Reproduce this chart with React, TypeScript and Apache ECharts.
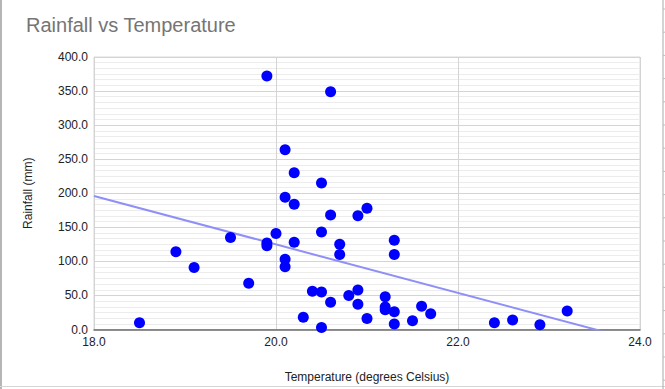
import React, { useEffect, useRef } from "react";
import * as echarts from "echarts";

const temperature = [
  18.5, 18.9, 19.1, 19.5, 19.7, 19.9, 19.9, 19.9, 20.0, 20.1, 20.1, 20.1, 20.1,
  20.2, 20.2, 20.2, 20.3, 20.4, 20.5, 20.5, 20.5, 20.5, 20.6, 20.6, 20.6, 20.7,
  20.7, 20.8, 20.9, 20.9, 20.9, 21.0, 21.0, 21.2, 21.2, 21.2, 21.3, 21.3, 21.3,
  21.3, 21.5, 21.6, 21.7, 22.4, 22.6, 22.9, 23.2,
];
const rainfall = [
  10, 114, 91, 135, 68, 372, 127, 123, 141, 264, 194, 103, 92, 230, 184, 128,
  18, 56, 215, 143, 55, 3, 349, 168, 40, 125, 110, 50, 167, 58, 37, 178, 16, 48,
  33, 29, 131, 110, 26, 8, 13, 34, 23, 10, 14, 7, 27,
];
const trendX = [18, 24];
const trendY = [196, -17.4];
const xTicks = { min: 18, max: 24, interval: 2 };
const yTicks = { min: 0, max: 400, interval: 50 };

export default function App() {
  const ref = useRef<HTMLDivElement>(null);
  useEffect(() => {
    if (!ref.current) return;
    document.body.style.margin = "0";
    const chart = echarts.init(ref.current, null, { renderer: "svg" });
    const font = "'Liberation Sans', Arial, sans-serif";
    const rowTicks: any[] = [];
    for (let y = 9; y < 389; y += 23.2) {
      rowTicks.push({
        type: "line",
        shape: { x1: 663, y1: y, x2: 665, y2: y },
        style: { stroke: "#bdbdbd", lineWidth: 1 },
        silent: true,
      });
    }
    chart.setOption({
      animation: false,
      backgroundColor: "#ffffff",
      title: {
        text: "Rainfall vs Temperature",
        left: 21,
        top: 10,
        textStyle: {
          fontFamily: font,
          fontSize: 20,
          fontWeight: "normal",
          color: "#757575",
        },
      },
      grid: {
        left: 94,
        right: 25,
        top: 57,
        bottom: 59.5,
        show: true,
        borderColor: "#d9d9d9",
        borderWidth: 1,
      },
      xAxis: {
        type: "value",
        min: xTicks.min,
        max: xTicks.max,
        interval: xTicks.interval,
        name: "Temperature (degrees Celsius)",
        nameLocation: "middle",
        nameGap: 41,
        nameTextStyle: { fontFamily: font, fontSize: 12, color: "#222" },
        axisLine: { show: true, lineStyle: { color: "#6b6b6b", width: 1.5 } },
        axisTick: { show: false },
        axisLabel: {
          fontFamily: font,
          fontSize: 12,
          color: "#222",
          margin: 6,
          formatter: (v: number) => v.toFixed(1),
        },
        splitLine: { show: true, lineStyle: { color: "#d4d4d4", width: 1 } },
      },
      yAxis: {
        type: "value",
        min: yTicks.min,
        max: yTicks.max,
        interval: yTicks.interval,
        name: "Rainfall (mm)",
        nameLocation: "middle",
        nameGap: 60,
        nameTextStyle: { fontFamily: font, fontSize: 12, color: "#222" },
        axisLine: { show: false },
        axisTick: { show: false },
        axisLabel: {
          fontFamily: font,
          fontSize: 12,
          color: "#222",
          margin: 6,
          formatter: (v: number) => v.toFixed(1),
        },
        splitLine: { show: true, lineStyle: { color: "#d4d4d4", width: 1 } },
        minorTick: { show: false, splitNumber: 6 },
        minorSplitLine: { show: true, lineStyle: { color: "#ececec", width: 1 } },
      },
      series: [
        {
          type: "line",
          data: trendX.map((x, i) => [x, trendY[i]]),
          showSymbol: false,
          symbol: "none",
          clip: true,
          lineStyle: { color: "#8f8ff8", width: 2 },
          silent: true,
          z: 2,
        },
        {
          type: "scatter",
          data: temperature.map((t, i) => [t, rainfall[i]]),
          symbol: "circle",
          symbolSize: 11,
          itemStyle: { color: "#0000ff", opacity: 1 },
          z: 3,
        },
      ],
      graphic: [
        {
          type: "line",
          shape: { x1: 1, y1: 0, x2: 1, y2: 389 },
          style: { stroke: "#9e9e9e", lineWidth: 1.5 },
          silent: true,
        },
        {
          type: "line",
          shape: { x1: 0, y1: 386.5, x2: 665, y2: 386.5 },
          style: { stroke: "#d6d6d6", lineWidth: 1 },
          silent: true,
        },
        {
          type: "line",
          shape: { x1: 663, y1: 0, x2: 663, y2: 389 },
          style: { stroke: "#a8a8a8", lineWidth: 1 },
          silent: true,
        },
        ...rowTicks,
      ],
    });
    return () => chart.dispose();
  }, []);
  return (
    <div
      ref={ref}
      style={{ position: "fixed", left: 0, top: 0, width: 665, height: 389 }}
    />
  );
}
